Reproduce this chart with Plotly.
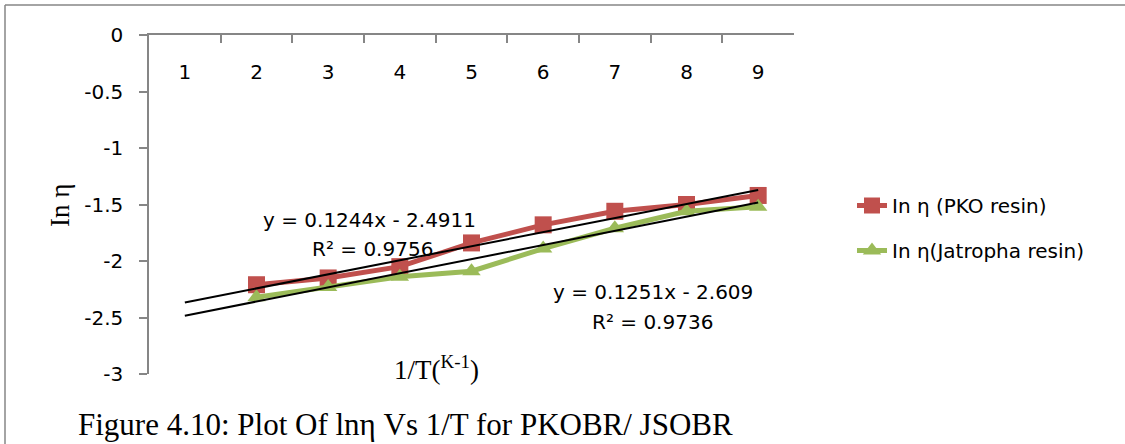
import plotly.graph_objects as go

# Category positions and tick text
categories = [1, 2, 3, 4, 5, 6, 7, 8, 9]
cat_labels = ["1", "2", "3", "4", "5", "6", "7", "8", "9"]

# Measured ln(viscosity) values (categories 2..9)
x_points = [2, 3, 4, 5, 6, 7, 8, 9]
pko_ln = [-2.21, -2.15, -2.05, -1.84, -1.68, -1.56, -1.50, -1.42]
jatropha_ln = [-2.32, -2.23, -2.14, -2.09, -1.89, -1.71, -1.56, -1.52]

# Linear trendlines (slope, intercept) as reported on the chart
pko_fit = (0.1244, -2.4911)
pko_r2 = 0.9756
jat_fit = (0.1251, -2.609)
jat_r2 = 0.9736

# y-axis ticks
y_ticks = [0, -0.5, -1, -1.5, -2, -2.5, -3]
y_tick_text = ["0", "-0.5", "-1", "-1.5", "-2", "-2.5", "-3"]

RED = "#C0504D"
GREEN = "#9BBB59"
AXIS = "#868686"
SANS = "DejaVu Sans"
SERIF = "Liberation Serif"

W, H = 1125, 444
L, R, T, B = 149, 331, 35, 70
PW, PH = W - L - R, H - T - B


def px_x(p):
    return (p - L) / PW


def px_y(p):
    return (H - B - p) / PH


fig = go.Figure()

fig.add_trace(go.Scatter(
    x=x_points, y=pko_ln, mode="lines+markers", name="In η (PKO resin)",
    line=dict(color=RED, width=5),
    marker=dict(symbol="square", size=17, color=RED),
    legendgroup="a",
))
fig.add_trace(go.Scatter(
    x=x_points, y=jatropha_ln, mode="lines+markers", name="In η(Jatropha resin)",
    line=dict(color=GREEN, width=5),
    marker=dict(symbol="triangle-up", size=16, color=GREEN),
    legendgroup="b",
))

# Trendlines across the full category span
trend_x = [categories[0], categories[-1]]
for slope, icpt in (pko_fit, jat_fit):
    fig.add_trace(go.Scatter(
        x=trend_x, y=[slope * v + icpt for v in trend_x], mode="lines",
        line=dict(color="black", width=2), showlegend=False, hoverinfo="skip",
    ))

# Overlay axis used only for category tick labels, drawn just below the top axis line
fig.add_trace(go.Scatter(x=categories, y=[None] * len(categories), xaxis="x2",
                         showlegend=False, hoverinfo="skip"))

annos = [
    dict(text=f"y = {pko_fit[0]}x - {abs(pko_fit[1])}", x=px_x(369), y=px_y(220),
         font=dict(family=SANS, size=20, color="black")),
    dict(text=f"R² = {pko_r2}", x=px_x(372), y=px_y(249),
         font=dict(family=SANS, size=20, color="black")),
    dict(text=f"y = {jat_fit[0]}x - {abs(jat_fit[1])}", x=px_x(653), y=px_y(292),
         font=dict(family=SANS, size=20, color="black")),
    dict(text=f"R² = {jat_r2}", x=px_x(652), y=px_y(322),
         font=dict(family=SANS, size=20, color="black")),
    dict(text="1/T(<sup>K-1</sup>)", x=px_x(436), y=px_y(368),
         font=dict(family=SERIF, size=27, color="black")),
    dict(text="In η", x=px_x(60), y=px_y(205), textangle=-90,
         font=dict(family=SERIF, size=27, color="black")),
    dict(text="Figure 4.10: Plot Of lnη Vs 1/T for PKOBR/ JSOBR", x=px_x(405), y=px_y(424),
         font=dict(family=SERIF, size=31, color="black")),
]
for a in annos:
    a.update(xref="paper", yref="paper", showarrow=False, xanchor="center", yanchor="middle")

fig.update_layout(
    width=W, height=H,
    margin=dict(l=L, r=R, t=T, b=B),
    paper_bgcolor="white", plot_bgcolor="white",
    annotations=annos,
    xaxis=dict(
        range=[0.5, 9.5], side="top", showline=True, linecolor=AXIS, linewidth=1.5,
        ticks="inside", ticklen=8, tickcolor=AXIS, tickwidth=1.5,
        tickvals=[c - 0.5 for c in categories] + [categories[-1] + 0.5],
        showticklabels=False, showgrid=False, zeroline=False, fixedrange=True,
    ),
    xaxis2=dict(
        range=[0.5, 9.5], overlaying="x", anchor="free", side="bottom",
        position=px_y(58), showline=False, ticks="", tickvals=categories,
        ticktext=cat_labels, showgrid=False, zeroline=False,
        tickfont=dict(family=SANS, size=20, color="black"),
    ),
    yaxis=dict(
        range=[-3, 0], showline=True, linecolor=AXIS, linewidth=1.5,
        ticks="outside", ticklen=8, tickcolor=AXIS, tickwidth=1.5,
        tickvals=y_ticks, ticktext=y_tick_text, showgrid=False, zeroline=False,
        tickfont=dict(family=SANS, size=20, color="black"), ticklabelstandoff=12,
    ),
    legend=dict(
        x=px_x(852), y=px_y(186), xanchor="left", yanchor="top",
        font=dict(family=SANS, size=20, color="black"),
        traceorder="grouped", tracegroupgap=16, bgcolor="rgba(0,0,0,0)",
    ),
    shapes=[
        dict(type="line", xref="paper", yref="paper", x0=px_x(5), x1=px_x(W), y0=px_y(5), y1=px_y(5),
             line=dict(color=AXIS, width=1.5)),
        dict(type="line", xref="paper", yref="paper", x0=px_x(5), x1=px_x(5), y0=px_y(5), y1=px_y(H),
             line=dict(color=AXIS, width=1.5)),
    ],
)

fig.write_html("out.html")
